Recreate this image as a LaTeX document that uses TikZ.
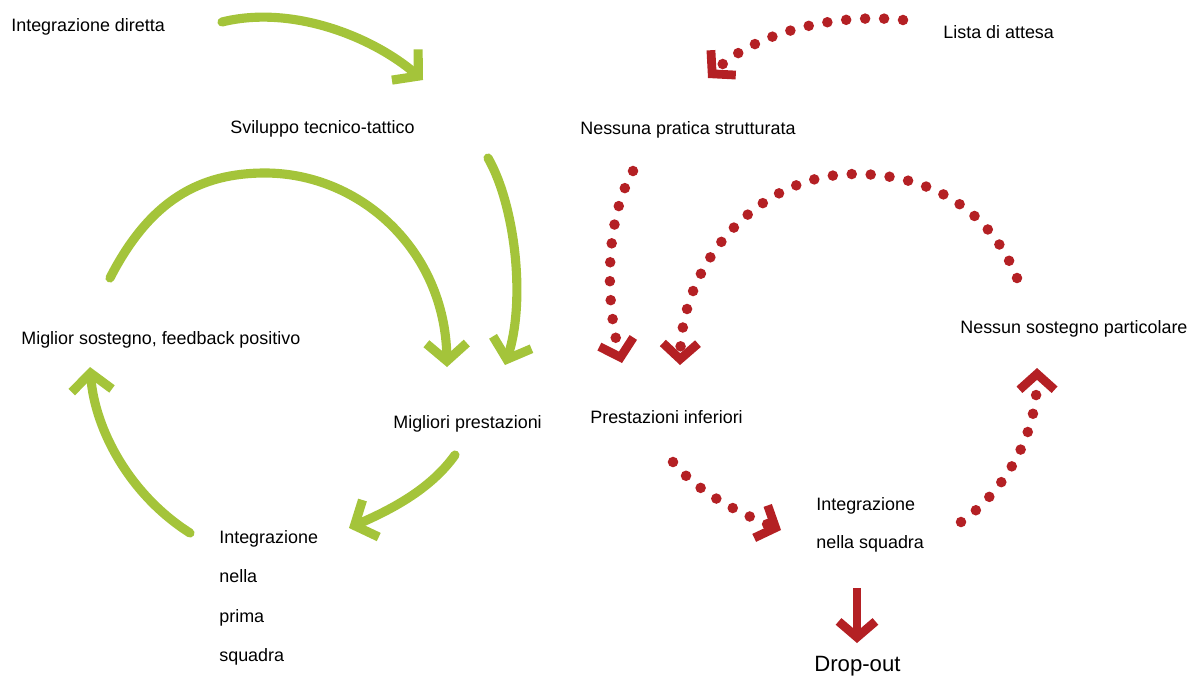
\documentclass[tikz,border=0pt]{standalone}
\usepackage{fontspec}
\setmainfont{Liberation Sans}
\definecolor{leaf}{RGB}{164,196,58}
\definecolor{wine}{RGB}{180,32,36}
\usetikzlibrary{arrows.meta}

\begin{document}
\begin{tikzpicture}[
    x=0.02cm, y=-0.02cm,
    label/.style={anchor=base west, inner sep=0pt, font=\fontsize{10.2}{12}\selectfont},
    multi/.style={anchor=west, inner sep=0pt, align=left},
    good/.style={draw=leaf, line width=5.2pt, line cap=round, -{Straight Barb[length=10pt, width=23pt]}},
    bad/.style={draw=wine, line width=6pt, line cap=round, dash pattern=on 0pt off 10.8pt, -{Straight Barb[length=9pt, width=20pt, line width=5pt]}},
    badsolid/.style={draw=wine, line width=5pt, -{Straight Barb[length=9pt, width=21pt]}}
]
\useasboundingbox (0,0) rectangle (1189,677);

% Nodes
\node (direct) [label] at (11,31) {Integrazione diretta};
\node (waitlist) [label] at (943,38) {Lista di attesa};
\node (skills) [label] at (230,133) {Sviluppo tecnico-tattico};
\node (nopractice) [label] at (580,134) {Nessuna pratica strutturata};
\node (support) [label] at (21,344) {Miglior sostegno, feedback positivo};
\node (nosupport) [label] at (960,333) {Nessun sostegno particolare};
\node (better) [label] at (393,428) {Migliori prestazioni};
\node (lower) [label] at (590,423) {Prestazioni inferiori};
\node (firstteam) [multi, font=\fontsize{10.2}{22.5}\selectfont] at (219,598) {Integrazione\\nella\\prima\\squadra};
\node (team) [multi, font=\fontsize{10.2}{21.5}\selectfont] at (816,525) {Integrazione\\nella squadra};
\node (dropout) [label, font=\fontsize{12.6}{15}\selectfont] at (814,671) {Drop-out};

% Arrow ends
\coordinate (g1a) at (222,22);  \coordinate (g1b) at (423,80);
\coordinate (g2a) at (110,278); \coordinate (g2m) at (265,173); \coordinate (g2b) at (447,367);
\coordinate (g3a) at (488,158); \coordinate (g3b) at (505,365);
\coordinate (g4a) at (455,455); \coordinate (g4b) at (349,528);
\coordinate (g5a) at (190,533); \coordinate (g5b) at (90,367);
\coordinate (r1a) at (903,20);  \coordinate (r1b) at (708,78);
\coordinate (r2a) at (633,171); \coordinate (r2b) at (622,363);
\coordinate (r3a) at (1017,278); \coordinate (r3m) at (855,174); \coordinate (r3b) at (680,365);
\coordinate (r4a) at (673,462); \coordinate (r4b) at (781,530);
\coordinate (r5a) at (961,522); \coordinate (r5b) at (1037,368);
\coordinate (r6a) at (857,588); \coordinate (r6b) at (857,643);

% Arrows
\draw [good] (g1a) .. controls (290,5) and (370,35) .. (g1b);
\draw [good] (g2a) .. controls (150,200) and (200,173) .. (g2m) .. controls (360,173) and (445,250) .. (g2b);
\draw [good] (g3a) .. controls (515,205) and (526,300) .. (g3b);
\draw [good] (g4a) .. controls (430,490) and (390,510) .. (g4b);
\draw [good] (g5a) .. controls (130,495) and (95,430) .. (g5b);
\draw [bad] (r1a) .. controls (830,12) and (750,36) .. (r1b);
\draw [bad] (r2a) .. controls (605,220) and (605,300) .. (r2b);
\draw [bad] (r3a) .. controls (990,210) and (930,174) .. (r3m) .. controls (760,174) and (682,260) .. (r3b);
\draw [bad] (r4a) .. controls (700,495) and (745,515) .. (r4b);
\draw [bad] (r5a) .. controls (1000,495) and (1037,440) .. (r5b);
\draw [badsolid] (r6a) -- (r6b);

\end{tikzpicture}
\end{document}
